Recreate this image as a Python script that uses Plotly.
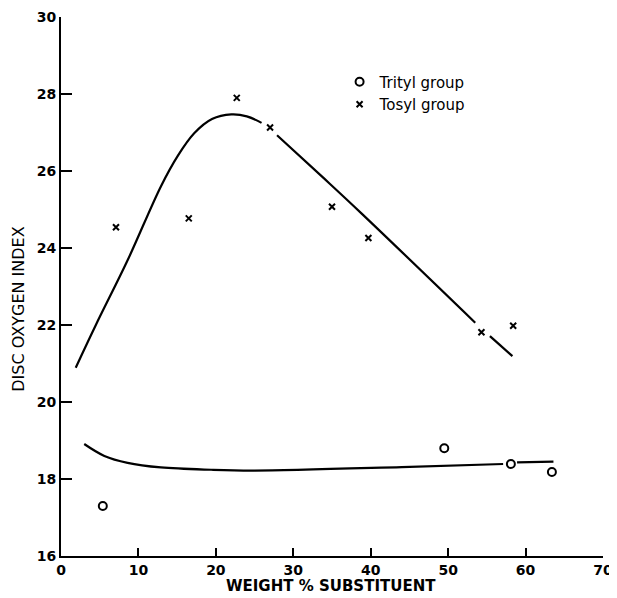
import plotly.graph_objects as go

# Measured data points
trityl_x = [5.4, 49.5, 58.1, 63.4]
trityl_y = [17.30, 18.80, 18.39, 18.18]

tosyl_x = [7.1, 16.5, 22.7, 27.0, 35.0, 39.7, 54.3, 58.4]
tosyl_y = [24.54, 24.77, 27.90, 27.13, 25.07, 24.26, 21.81, 21.98]

# Hand-drawn fitted curves (None = gap in the drawn line)
tosyl_curve_x = [1.9, 4.5, 8.6, 12.9, 15.1, 17.2, 19.5, 22.0, 24.0, 25.9, None,
                 27.9, 33.9, 38.8, 53.5, None, 55.4, 58.3]
tosyl_curve_y = [20.89, 22.0, 23.68, 25.6, 26.4, 26.98, 27.35, 27.47, 27.42, 27.25, None,
                 26.93, 25.82, 24.90, 22.06, None, 21.71, 21.19]

trityl_curve_x = [3.0, 5.6, 8.6, 12.9, 19.4, 25.0, 44.0, 57.1, None, 58.9, 63.6]
trityl_curve_y = [18.91, 18.60, 18.42, 18.30, 18.24, 18.22, 18.31, 18.39, None, 18.43, 18.45]

x_ticks = [0, 10, 20, 30, 40, 50, 60, 70]
y_ticks = [16, 18, 20, 22, 24, 26, 28, 30]

fig = go.Figure()

fig.add_trace(go.Scatter(x=tosyl_curve_x, y=tosyl_curve_y, mode="lines",
                         line=dict(color="black", width=2.2, shape="spline", smoothing=1.0),
                         connectgaps=False, showlegend=False, hoverinfo="skip"))
fig.add_trace(go.Scatter(x=trityl_curve_x, y=trityl_curve_y, mode="lines",
                         line=dict(color="black", width=2.2, shape="spline", smoothing=1.0),
                         connectgaps=False, showlegend=False, hoverinfo="skip"))

fig.add_trace(go.Scatter(x=trityl_x, y=trityl_y, mode="markers", name="Trityl group",
                         marker=dict(symbol="circle-open", size=8, color="black",
                                     line=dict(color="black", width=2))))
fig.add_trace(go.Scatter(x=tosyl_x, y=tosyl_y, mode="markers", name="Tosyl group",
                         marker=dict(symbol="x-thin", size=6, color="black",
                                     line=dict(color="black", width=2))))

tick_font = dict(family="DejaVu Sans", size=14, color="black", weight="bold")

# page body has an 8px margin; the figure is sized/offset to compensate
fig.update_layout(
    width=609, height=590,
    margin=dict(l=53, r=14, t=9, b=42),
    plot_bgcolor="white", paper_bgcolor="white",
    showlegend=True,
    legend=dict(x=0.514, y=0.91, xanchor="left", yanchor="top",
                font=dict(family="DejaVu Sans", size=15, color="black"),
                itemwidth=30, tracegroupgap=0, bgcolor="rgba(0,0,0,0)",
                traceorder="normal"),
    xaxis=dict(range=[0, 70], tickvals=x_ticks, ticktext=[str(v) for v in x_ticks],
               ticks="inside", ticklen=8, tickwidth=2, tickcolor="black",
               showline=True, linecolor="black", linewidth=2, automargin=False,
               showgrid=False, zeroline=False, tickfont=tick_font),
    yaxis=dict(range=[16, 30], tickvals=y_ticks, ticktext=[str(v) for v in y_ticks],
               ticks="inside", ticklen=11, tickwidth=2, tickcolor="black",
               showline=True, linecolor="black", linewidth=2, automargin=False,
               showgrid=False, zeroline=False, tickfont=tick_font),
    annotations=[
        dict(text="WEIGHT % SUBSTITUENT", xref="paper", yref="paper",
             x=0.498, y=-0.055, xanchor="center", yanchor="middle", showarrow=False,
             font=dict(family="DejaVu Sans", size=15, color="black", weight="bold")),
        dict(text="DISC OXYGEN INDEX", xref="paper", yref="paper",
             x=-0.080, y=0.458, xanchor="center", yanchor="middle", showarrow=False,
             textangle=-90,
             font=dict(family="DejaVu Sans", size=16, color="black")),
    ],
)

fig.write_html("out.html")
